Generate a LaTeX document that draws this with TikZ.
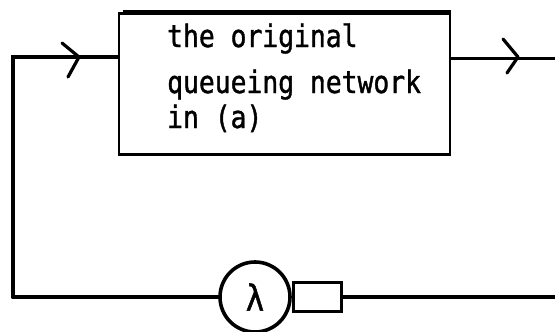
\documentclass[tikz,border=0pt]{standalone}
\usepackage{fontspec}
\newfontfamily\printfont[FakeStretch=0.85,FakeBold=1.2]{DejaVu Sans Mono}
\tikzset{
  wire/.style={line width=4pt, line cap=round},
  thinwire/.style={line width=3pt},
  chevron/.style={line width=3.2pt, line cap=round, line join=round},
  netbox/.style={draw, line width=2.8pt, rectangle, minimum width=331pt, minimum height=141pt, inner sep=0pt},
  server/.style={draw, circle, line width=3.6pt, minimum size=70pt, inner sep=0pt, font=\printfont\fontsize{36}{36}\selectfont},
  queue/.style={draw, rectangle, line width=2.8pt, minimum width=48pt, minimum height=29pt, inner sep=0pt},
  label/.style={anchor=base west, inner sep=0pt, font=\printfont\fontsize{31}{31}\selectfont}
}
\begin{document}
\begin{tikzpicture}[x=1pt, y=-1pt]
  \useasboundingbox (0,0) rectangle (555,332);

  % subnetwork box and its caption
  \node[netbox] (net) at (284.5,84) {};
  \draw[line width=4.4pt] ([xshift=5pt]net.north west) -- (net.north east);
  \node[label] (l1) at (167,47) {the original};
  \node[label] (l2) at (167,93) {queueing network};
  \node[label] (l3) at (167,128) {in (a)};

  % feedback server with its queue
  \node[server] (srv) at (255,297) {λ};
  \node[queue, anchor=west] (q) at (srv.east) {};

  % corners and free ends of the loop
  \coordinate (tl) at (13,57);
  \coordinate (bl) at (13,297);
  \coordinate (outtop) at (555,58);
  \coordinate (outbot) at (555,297);

  % connectors
  \draw[wire] (bl) -- (tl) -- (net.west |- tl);
  \draw[thinwire] (net.east |- outtop) -- (outtop);
  \draw[wire] (bl) -- (srv.west);
  \draw[wire] (q.east) -- (outbot);

  % flow direction marks
  \coordinate (a1) at (79,57);
  \coordinate (a2) at (518,57);
  \draw[chevron] ([shift={(-17,-14)}]a1) -- (a1) -- ([shift={(-11,20)}]a1);
  \draw[chevron] ([shift={(-15,-18)}]a2) -- (a2) -- ([shift={(-11,16)}]a2);
\end{tikzpicture}
\end{document}
